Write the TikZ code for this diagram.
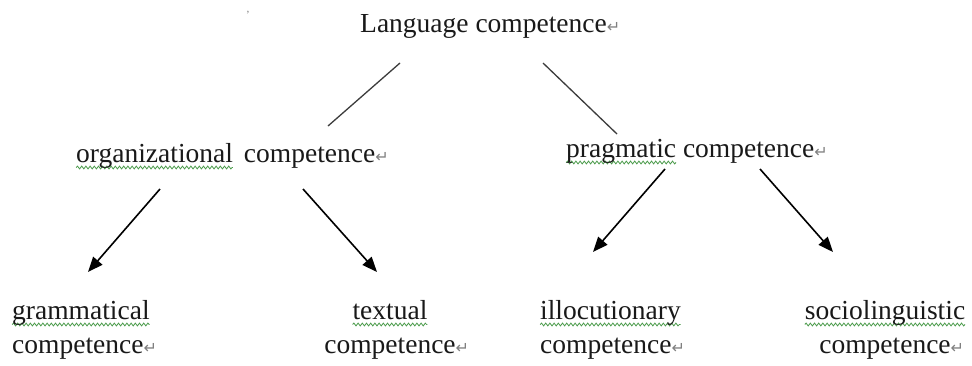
\documentclass[tikz,border=0pt]{standalone}
\usepackage{fontspec}
\setmainfont{Liberation Serif}
\newfontfamily\symfont{DejaVu Sans}
\usetikzlibrary{arrows.meta,decorations.pathmorphing}
\definecolor{squig}{RGB}{75,155,75}
\definecolor{txt}{RGB}{25,25,25}
\definecolor{linec}{RGB}{60,60,60}
\newsavebox\sqbox
\newlength\sqlen
\newcommand\sqw[1]{\sbox\sqbox{#1}\setlength\sqlen{\wd\sqbox}\rlap{\tikz[overlay,baseline=0pt]\draw[squig,line width=0.8pt,decorate,decoration={snake,amplitude=1.4pt,segment length=4.2pt}] (0pt,-5.5pt) -- (\sqlen,-5.5pt);}\usebox\sqbox}
\newcommand\retm{{\symfont\fontsize{16}{16}\selectfont\textcolor{black!50}{↵}}}
\begin{document}
\begin{tikzpicture}[x=1pt,y=-1pt,
  lbl/.style={inner sep=0pt, anchor=base west, text=txt, font=\fontsize{27.5}{34}\selectfont},
  lblc/.style={lbl, anchor=base},
  branch/.style={draw=linec, line width=1.3pt},
  arr/.style={draw=black, line width=1.6pt, -{Triangle[length=15pt,width=12pt]}}]
\useasboundingbox (0,0) rectangle (972,365);
\fill[white] (0,0) rectangle (972,365);

\node[inner sep=0pt, text=gray, font=\fontsize{11}{11}\selectfont] (tick) at (248,15) {'};

\node[lbl] (lang) at (360,32) {Language competence\retm};
\node[lbl] (org) at (76,162) {\sqw{organizational}\hspace{0.4em}competence\retm};
\node[lbl] (prag) at (566,157) {\sqw{pragmatic} competence\retm};

\node[lbl] (gram) at (12,319) {\begin{tabular}[t]{@{}l@{}}\sqw{grammatical}\\competence\retm\end{tabular}};
\node[lblc] (textc) at (390,319) {\begin{tabular}[t]{@{}c@{}}\sqw{textual}\\competence\rlap{\retm}\end{tabular}};
\node[lbl] (illoc) at (540,319) {\begin{tabular}[t]{@{}l@{}}\sqw{illocutionary}\\competence\retm\end{tabular}};
\node[lblc] (socio) at (885,319) {\begin{tabular}[t]{@{}c@{}}\sqw{sociolinguistic}\\competence\rlap{\retm}\end{tabular}};

% connector end points
\coordinate (lang-l) at (400,63);
\coordinate (org-t) at (328,126);
\coordinate (lang-r) at (543,63);
\coordinate (prag-t) at (617,134);
\coordinate (org-l) at (160,189);
\coordinate (gram-t) at (88,272);
\coordinate (org-r) at (303,189);
\coordinate (textc-t) at (377,272);
\coordinate (prag-l) at (665,169);
\coordinate (illoc-t) at (593,252);
\coordinate (prag-r) at (760,169);
\coordinate (socio-t) at (833,252);

\draw[branch] (lang-l) -- (org-t);
\draw[branch] (lang-r) -- (prag-t);
\draw[arr] (org-l) -- (gram-t);
\draw[arr] (org-r) -- (textc-t);
\draw[arr] (prag-l) -- (illoc-t);
\draw[arr] (prag-r) -- (socio-t);
\end{tikzpicture}
\end{document}
